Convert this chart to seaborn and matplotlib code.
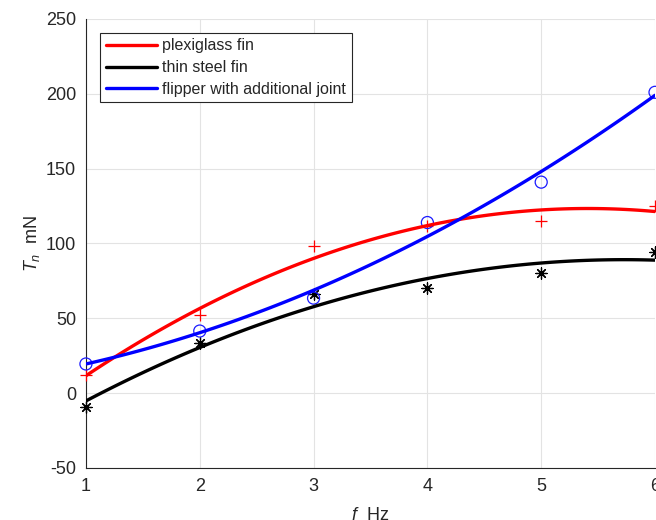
import numpy as np
import pandas as pd
import seaborn as sns
from matplotlib import pyplot as plt
from matplotlib.lines import Line2D

# frequency and measured thrust for each fin
freq = [1, 2, 3, 4, 5, 6]
plexiglass = [12, 52, 98, 112, 115, 125]
steel = [-9, 33.5, 66.5, 70.5, 80, 94]
flipper = [19.5, 41.5, 63.5, 114, 141, 201]

series_names = ['plexiglass fin', 'thin steel fin', 'flipper with additional joint']
colors = ['#ff0000', '#000000', '#0000ff']
marker_colors = ['#ff0000', '#000000', '#1a1aff']
markers = ['+', (8, 2, 0), 'o']

sns.set_style('white')
plt.rcParams['font.family'] = ['Liberation Sans', 'DejaVu Sans']
plt.rcParams['mathtext.fontset'] = 'custom'
plt.rcParams['mathtext.rm'] = 'Liberation Sans'
plt.rcParams['mathtext.it'] = 'Liberation Sans:italic'
plt.rcParams['axes.unicode_minus'] = False

fig = plt.figure(figsize=(6.56, 5.2), dpi=100)
ax = fig.add_axes([0.131, 0.1, 0.8675, 0.8635])

data = [plexiglass, steel, flipper]
for vals, c, mc, m in zip(data, colors, marker_colors, markers):
    df = pd.DataFrame({'f': freq, 'T': vals})
    if m == 'o':
        ax.scatter(df['f'], df['T'], s=75, marker='o', facecolors='none',
                   edgecolors=mc, linewidths=0.9, zorder=3, clip_on=False)
    else:
        ax.scatter(df['f'], df['T'], s=65, marker=m, color=mc,
                   linewidths=0.9, zorder=3, clip_on=False)
    sns.regplot(data=df, x='f', y='T', order=2, ci=None, scatter=False,
                ax=ax, line_kws={'color': c, 'lw': 2.4, 'zorder': 4})

ax.set_xlim(1, 6)
ax.set_ylim(-50, 250)
ax.set_xticks([1, 2, 3, 4, 5, 6])
ax.set_yticks(np.arange(-50, 251, 50))
ax.grid(True, color='#e3e3e3', lw=0.8)
ax.set_axisbelow(True)
for s in ['top', 'right']:
    ax.spines[s].set_visible(False)
for s in ['left', 'bottom']:
    ax.spines[s].set_color('#262626')
    ax.spines[s].set_linewidth(0.8)
ax.tick_params(direction='in', length=5, width=0.8, colors='#262626',
               labelsize=13, pad=7)

ax.set_xlabel(r'$f$  Hz', fontsize=13, color='#262626', labelpad=9)
ax.set_ylabel(r'$T_n$  mN', fontsize=13, color='#262626', labelpad=3)

handles = [Line2D([], [], color=c, lw=2.4) for c in colors]
leg = ax.legend(handles, series_names, loc='upper left', fontsize=11.5,
                bbox_to_anchor=(0.0246, 0.969), handlelength=3.2, handletextpad=0.35,
                labelspacing=0.42, borderpad=0.35, fancybox=False, framealpha=1,
                borderaxespad=0)
leg.get_frame().set_edgecolor('#262626')
leg.get_frame().set_linewidth(0.8)

plt.savefig('out.png', dpi=100)
